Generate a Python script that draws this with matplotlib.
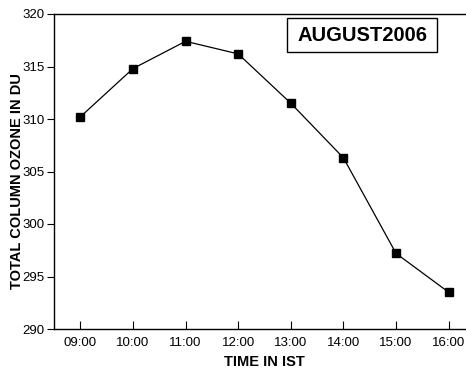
import matplotlib
matplotlib.use("Agg")
import matplotlib.pyplot as plt
from matplotlib.patches import Rectangle

times = ["09:00", "10:00", "11:00", "12:00", "13:00", "14:00", "15:00", "16:00"]
ozone = [310.2, 314.8, 317.4, 316.2, 311.5, 306.3, 297.2, 293.5]
yticks = [290, 295, 300, 305, 310, 315, 320]

plt.rcParams["font.family"] = ["Liberation Sans", "DejaVu Sans"]

fig = plt.figure(figsize=(4.66, 3.71), dpi=100)
# the axes run a little past the right edge of the picture, as in the original crop
ax = fig.add_axes([54 / 466, 1 - 329 / 371, 421 / 466, 315 / 371])

x = list(range(len(times)))
ax.plot(x, ozone, color="black", lw=0.9, marker="s", ms=5.7, mfc="black", mec="black")

ax.set_xlim(-0.5, 7.5)
ax.set_ylim(290, 320)
ax.set_xticks(x)
ax.set_xticklabels(times)
ax.set_yticks(yticks)
ax.spines["right"].set_visible(False)
for s in ax.spines.values():
    s.set_linewidth(1.0)
ax.tick_params(axis="x", direction="in", length=6, labelsize=9.5, pad=6)
ax.tick_params(axis="y", direction="out", length=5, labelsize=9.5, pad=2)

ax.set_xlabel("TIME IN IST", fontsize=10.5, fontweight="bold", labelpad=4)
ax.set_ylabel("TOTAL COLUMN OZONE IN DU", fontsize=10.5, fontweight="bold")
ax.yaxis.set_label_coords(-0.071, 0.47)

# title box
ax.add_patch(Rectangle((233 / 421, 0.879), 150 / 421, 0.108, transform=ax.transAxes,
                       fc="white", ec="black", lw=1, clip_on=False))
ax.text(308 / 421, 0.933, "AUGUST2006", transform=ax.transAxes, ha="center", va="center",
        fontsize=14.5, fontweight="bold")

fig.savefig("out.png", dpi=100)
